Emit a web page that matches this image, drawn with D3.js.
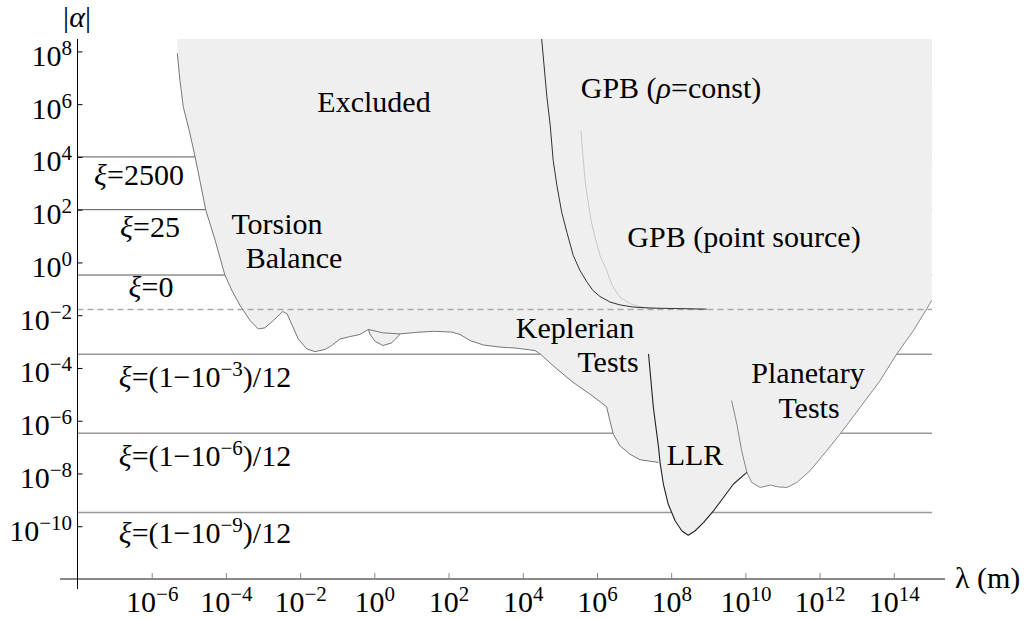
<!DOCTYPE html>
<html><head><meta charset="utf-8">
<script src="https://cdn.jsdelivr.net/npm/d3@7"></script>
<style>body{margin:0;background:#fff}</style>
</head><body>
<svg id="chart" width="1033" height="618"></svg>
<script>
// ---- data (exponents: [log10 λ(m), log10 |α|]) ----
const xTickExps = [-6,-4,-2,0,2,4,6,8,10,12,14];
const yTickExps = [8,6,4,2,0,-2,-4,-6,-8,-10];
const xiLevels = [1e4, 1e2, 1/3, 3.33e-4, 3.33e-7, 3.33e-10];
const xiDark = [true, true, true, false, false, false];
const dashedLevel = 0.0165;
const torsionKepler = [[-5.31,7.93],[-5.24,6.91],[-5.15,5.90],[-4.99,5.01],[-4.83,4.00],[-4.54,1.97],[-4.29,0.84],[-4.03,-0.47],[-3.84,-1.06],[-3.62,-1.63],[-3.35,-2.20],[-3.13,-2.52],[-2.95,-2.48],[-2.72,-2.20],[-2.47,-1.86],[-2.35,-1.95],[-2.23,-2.33],[-2.05,-2.90],[-1.82,-3.28],[-1.60,-3.38],[-1.33,-3.30],[-1.15,-3.15],[-0.92,-2.90],[-0.65,-2.81],[-0.39,-2.73],[-0.16,-2.54],[-0.12,-2.71],[0.02,-2.99],[0.23,-3.15],[0.47,-3.05],[0.67,-2.75],[0.69,-2.71],[1.14,-2.65],[1.59,-2.61],[2.09,-2.64],[2.31,-2.73],[2.58,-2.96],[2.94,-3.13],[3.39,-3.21],[3.84,-3.25],[4.33,-3.34],[4.47,-3.47],[4.92,-4.04],[5.36,-4.55],[5.81,-4.99],[6.26,-5.47],[6.35,-6.00],[6.44,-6.51],[6.62,-6.95],[6.89,-7.27],[7.16,-7.48],[7.66,-7.58]];
const torsionUpper = [[-0.16,-2.54],[0.24,-2.67],[0.69,-2.71]];
const llr = [[7.39,-3.47],[7.52,-5.50],[7.66,-7.01],[7.70,-7.58],[7.79,-8.40],[7.92,-9.16],[8.11,-9.80],[8.29,-10.18],[8.46,-10.34],[8.64,-10.18],[8.87,-9.86],[9.14,-9.42],[9.41,-8.91],[9.68,-8.40],[10.04,-7.96]];
const planetary = [[9.63,-5.24],[9.77,-6.13],[9.90,-7.14],[10.04,-7.96],[10.17,-8.34],[10.40,-8.53],[10.67,-8.44],[10.89,-8.51],[11.12,-8.53],[11.39,-8.34],[11.74,-7.90],[12.19,-7.14],[12.55,-6.51],[13.09,-5.50],[13.63,-4.48],[14.08,-3.47],[14.53,-2.58],[14.89,-1.76],[15.02,-1.44]];
const gpbConst = [[4.51,8.47],[4.65,6.28],[4.74,5.20],[4.82,3.87],[4.92,2.92],[5.05,1.90],[5.19,1.14],[5.36,0.27],[5.54,-0.30],[5.72,-0.72],[5.89,-1.06],[6.08,-1.29],[6.35,-1.50],[6.62,-1.61],[6.97,-1.69],[7.43,-1.73],[8.96,-1.77]];
const gpbPoint = [[5.57,4.98],[5.61,4.25],[5.68,3.11],[5.76,2.30],[5.84,1.60],[5.95,0.95],[6.08,0.27],[6.26,-0.30],[6.41,-0.87],[6.62,-1.32],[6.89,-1.56],[7.16,-1.69],[7.70,-1.75]];
const regionTop = 8.47, regionRight = 15.03, xMinExp = -8, xMaxExp = 15.38, yMinExp = -12;

// ---- layout ----
const svg = d3.select("#chart");
const FAM = '"Liberation Serif"';
const x = d3.scaleLog().domain([10**xMinExp, 10**xMaxExp]).range([77.5, 945]);
const y = d3.scaleLog().domain([10**yMinExp, 10**regionTop]).range([579, 39]);
const P = p => [x(10**p[0]), y(10**p[1])];
const line = d3.line();

// horizontal xi lines
svg.append("g").selectAll("line").data(xiLevels).join("line")
  .attr("x1", x(10**xMinExp)).attr("x2", x(10**regionRight))
  .attr("y1", d => y(d)).attr("y2", d => y(d))
  .attr("stroke", (d,i) => xiDark[i] ? "#555" : "#999")
  .attr("stroke-width", (d,i) => xiDark[i] ? 1 : 1.4);

// excluded region
const region = [[torsionKepler[0][0], regionTop], ...torsionKepler, ...llr.slice(4), ...planetary.slice(4), [regionRight, regionTop]];
svg.append("path").attr("d", line(region.map(P)) + "Z").attr("fill", "#efefef");

// dashed level
svg.append("line").attr("x1", x(10**xMinExp)).attr("x2", x(10**regionRight))
  .attr("y1", y(dashedLevel)).attr("y2", y(dashedLevel))
  .attr("stroke", "#aaa").attr("stroke-width", 1.4).attr("stroke-dasharray", "6,4");

// curves
const curve = (pts, col, w) => svg.append("path").attr("d", line(pts.map(P)))
  .attr("fill", "none").attr("stroke", col).attr("stroke-width", w).attr("stroke-linejoin", "round");
curve(torsionKepler, "#777", 1);
curve(torsionUpper, "#777", 1);
curve(planetary, "#888", 1);
curve(llr, "#222", 1.1);
curve(gpbPoint, "#c8c8c8", 1);
curve(gpbConst, "#333", 1);

// axes
const gx = svg.append("g").attr("transform", "translate(0,579)")
  .call(d3.axisBottom(x).tickValues(xTickExps.map(e => 10**e)).tickSize(-6).tickPadding(0));
gx.select(".domain").remove();
gx.selectAll(".tick line").attr("stroke", "#888");
svg.append("line").attr("x1", 60).attr("x2", 945).attr("y1", 579).attr("y2", 579).attr("stroke", "#888").attr("stroke-width", 1.8);

const gy = svg.append("g").attr("transform", "translate(77.5,0)")
  .call(d3.axisLeft(y).tickValues(yTickExps.map(e => 10**e)).tickSize(-5).tickPadding(0));
gy.select(".domain").remove();
gy.selectAll(".tick line").attr("stroke", "#000");
svg.append("line").attr("x1", 77.5).attr("x2", 77.5).attr("y1", 39).attr("y2", 589).attr("stroke", "#000").attr("stroke-width", 1);

const FS = 30, SUP = 21, SH = 11;
const span = (t, txt, size) => t.append("tspan").style("font-family", FAM).style("font-size", size + "px").text(txt);
function powLabel(t, e) {
  t.text(null);
  span(t, "10", FS);
  span(t, String(e).replace("-", "\u2212"), SUP).attr("dy", -SH);
}
gx.attr("font-family", FAM).attr("font-size", FS);
gy.attr("font-family", FAM).attr("font-size", FS);
gx.selectAll(".tick text").each(function(d) {
  const t = d3.select(this).attr("y", 33).attr("dy", 0).style("font-family", FAM).style("font-size", FS + "px").attr("fill", "#000").attr("text-anchor", "middle");
  powLabel(t, Math.round(Math.log10(d)));
});
gy.selectAll(".tick text").each(function(d) {
  const t = d3.select(this).attr("x", -5.5).attr("y", 14).attr("dy", 0).style("font-family", FAM).style("font-size", FS + "px").attr("fill", "#000").attr("text-anchor", "end");
  powLabel(t, Math.round(Math.log10(d)));
});

// annotations
function label(px, py, parts, anchor = "middle") {
  const t = svg.append("text").attr("x", px).attr("y", py)
    .style("font-family", FAM).style("font-size", FS + "px").attr("text-anchor", anchor).attr("fill", "#000");
  let shifted = 0;
  parts.forEach(p => {
    const s = span(t, p.t, p.sup ? SUP : FS);
    if (p.i) s.style("font-style", "italic");
    if (p.sup) { s.attr("dy", -SH); shifted = 1; }
    else if (shifted) { s.attr("dy", SH); shifted = 0; }
  });
  return t;
}
label(77, 27, [{t:"|"},{t:"\u03b1", i:1},{t:"|"}]);
label(955, 588, [{t:"\u03bb (m)"}], "start");
label(374, 112, [{t:"Excluded"}]);
label(277, 234, [{t:"Torsion"}]);
label(294, 268, [{t:"Balance"}]);
label(671, 98, [{t:"GPB ("},{t:"\u03c1", i:1},{t:"=const)"}]);
label(744, 247, [{t:"GPB (point source)"}]);
label(575, 338, [{t:"Keplerian"}]);
label(608, 372, [{t:"Tests"}]);
label(695, 465, [{t:"LLR"}]);
label(808, 383, [{t:"Planetary"}]);
label(809, 418, [{t:"Tests"}]);
label(139, 185, [{t:"\u03be", i:1},{t:"=2500"}]);
label(150, 237, [{t:"\u03be", i:1},{t:"=25"}]);
label(151, 297, [{t:"\u03be", i:1},{t:"=0"}]);
label(205, 387, [{t:"\u03be", i:1},{t:"=(1\u221210"},{t:"\u22123", sup:1},{t:")/12"}]);
label(205, 466, [{t:"\u03be", i:1},{t:"=(1\u221210"},{t:"\u22126", sup:1},{t:")/12"}]);
label(205, 543, [{t:"\u03be", i:1},{t:"=(1\u221210"},{t:"\u22129", sup:1},{t:")/12"}]);
</script>
</body></html>
